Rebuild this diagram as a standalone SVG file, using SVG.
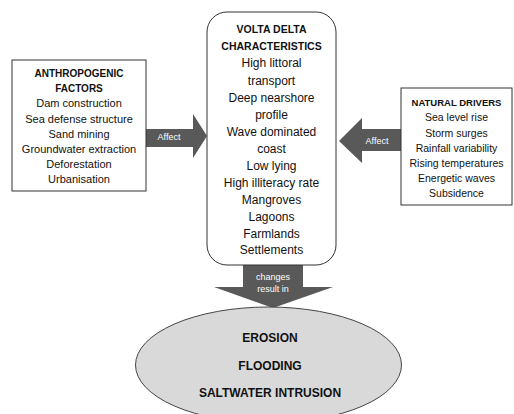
<svg xmlns="http://www.w3.org/2000/svg" width="514" height="414" viewBox="0 0 514 414">
<style>
text{font-family:"Liberation Sans",Arial,sans-serif;text-anchor:middle;dominant-baseline:central;fill:#111}
.b{font-weight:bold}
.l{font-size:11px}
.c{font-size:12px}
.r{font-size:10.5px}
.h{font-size:10px;font-weight:bold}
.a{fill:#595959}
.w{fill:#fff;font-size:9px}
.e{font-size:12px;font-weight:bold}
.box{fill:#fff;stroke:#333;stroke-width:1}
</style>
<rect width="514" height="414" fill="#fff"/>
<g id="connectors">
<path class="a" d="M146,129 H193 V114 L207,136 L193,158 V147 H146 Z"/>
<text class="w" x="169" y="137">Affect</text>
<path class="a" d="M401,129 H362 V118 L339,141 L362,163 V151 H401 Z"/>
<text class="w" x="377" y="141">Affect</text>
<path class="a" d="M243,265 H303 V287 H333 L273,308 L214,287 H243 Z"/>
<text class="w" x="273" y="277">changes</text>
<text class="w" x="273" y="289">result in</text>
</g>
<g id="anthropogenic">
<rect class="box" x="12" y="60" width="134" height="131"/>
<text class="h" x="79" y="73">ANTHROPOGENIC</text>
<text class="h" x="79" y="88">FACTORS</text>
<text class="l" x="79" y="103">Dam construction</text>
<text class="l" x="79" y="119">Sea defense structure</text>
<text class="l" x="79" y="134">Sand mining</text>
<text class="l" x="79" y="149">Groundwater extraction</text>
<text class="l" x="79" y="164">Deforestation</text>
<text class="l" x="79" y="179">Urbanisation</text>
</g>
<g id="volta">
<rect class="box" x="207" y="12" width="129" height="253" rx="20" ry="20"/>
<text class="h" x="271.5" y="29" style="font-size:10.5px">VOLTA DELTA</text>
<text class="h" x="271.5" y="46" style="font-size:10.5px">CHARACTERISTICS</text>
<text class="c" x="271.5" y="63">High littoral</text>
<text class="c" x="271.5" y="81">transport</text>
<text class="c" x="271.5" y="98">Deep nearshore</text>
<text class="c" x="271.5" y="115">profile</text>
<text class="c" x="271.5" y="132">Wave dominated</text>
<text class="c" x="271.5" y="149">coast</text>
<text class="c" x="271.5" y="166">Low lying</text>
<text class="c" x="271.5" y="183">High illiteracy rate</text>
<text class="c" x="271.5" y="200">Mangroves</text>
<text class="c" x="271.5" y="217">Lagoons</text>
<text class="c" x="271.5" y="234">Farmlands</text>
<text class="c" x="271.5" y="250">Settlements</text>
</g>
<g id="natural">
<rect class="box" x="401" y="88" width="111" height="117"/>
<text class="h" x="456.5" y="102" style="font-size:9.5px">NATURAL DRIVERS</text>
<text class="r" x="456.5" y="117">Sea level rise</text>
<text class="r" x="456.5" y="133">Storm surges</text>
<text class="r" x="456.5" y="148">Rainfall variability</text>
<text class="r" x="456.5" y="163">Rising temperatures</text>
<text class="r" x="456.5" y="178">Energetic waves</text>
<text class="r" x="456.5" y="193">Subsidence</text>
</g>
<g id="impacts">
<ellipse cx="268.5" cy="365" rx="133" ry="58" fill="#d9d9d9" stroke="#444" stroke-width="1"/>
<text class="e" x="270" y="338">EROSION</text>
<text class="e" x="270" y="366">FLOODING</text>
<text class="e" x="270" y="393">SALTWATER INTRUSION</text>
</g>
</svg>
